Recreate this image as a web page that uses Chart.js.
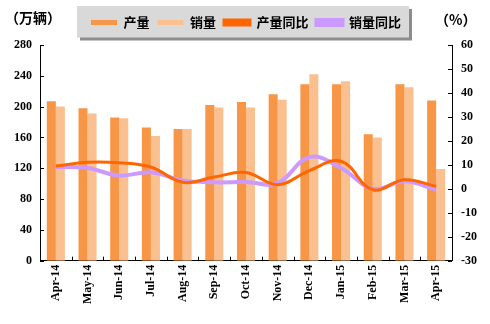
<!DOCTYPE html>
<html>
<head>
<meta charset="utf-8">
<script src="https://cdn.jsdelivr.net/npm/chart.js@4"></script>
<style>
html,body{margin:0;padding:0;background:#fff;}
#wrap{width:490px;height:324px;}
</style>
</head>
<body>
<div id="wrap"><canvas id="c" width="490" height="324"></canvas></div>
<script>
const categories = ['Apr-14','May-14','Jun-14','Jul-14','Aug-14','Sep-14','Oct-14','Nov-14','Dec-14','Jan-15','Feb-15','Mar-15','Apr-15'];
const production = [207,198,186,173,171,202,206,216,229,229,164,229,208];
const sales      = [200,191,185,162,171,199,199,209,242,233,160,225,119];
const productionYoY = [9.5,11.1,10.9,9.1,2.7,4.9,6.8,1.7,7.6,11.5,-0.4,3.8,1.0];
const salesYoY      = [9.1,8.7,5.5,6.9,3.5,2.7,2.8,2.4,13.2,8.7,0.0,3.1,-0.4];
const leftTicks  = [0,40,80,120,160,200,240,280];
const rightTicks = [-30,-20,-10,0,10,20,30,40,50,60];
const seriesNames = ['产量','销量','产量同比','销量同比'];
const leftTitle = '（万辆）';
const rightTitle = '（%）';

const tickFont = {family:'"Liberation Serif", "DejaVu Serif", serif', size:12, weight:'bold'};

const decor = {
  id:'decor',
  beforeInit(chart){
    const lg = chart.legend;
    if (lg && !lg._patched){
      const orig = lg.fit;
      lg.fit = function(){ orig.apply(this, arguments); this.height += 6; };
      lg._patched = true;
    }
  },
  beforeDraw(chart){
    const ctx = chart.ctx;
    const lg = chart.legend;
    if (lg && lg.legendHitBoxes && lg.legendHitBoxes.length){
      const hb = lg.legendHitBoxes;
      const first = hb[0], last = hb[hb.length-1];
      const cy = first.top + first.height/2;
      const x0 = first.left - 14, x1 = last.left + last.width + 8;
      const y0 = cy - 16.5, y1 = cy + 15;
      ctx.save();
      ctx.fillStyle = '#8c8c8c';
      ctx.fillRect(x0+3, y0+3, x1-x0, y1-y0);
      ctx.fillStyle = '#d9d9d9';
      ctx.fillRect(x0, y0, x1-x0, y1-y0);
      ctx.restore();
    }
  },
  afterDraw(chart){
    const ctx = chart.ctx;
    const a = chart.chartArea;
    const yl = chart.scales.y, yr = chart.scales.y1, x = chart.scales.x;
    ctx.save();
    ctx.strokeStyle = '#000';
    ctx.lineWidth = 1;
    ctx.beginPath();
    leftTicks.forEach(v=>{const p=Math.round(yl.getPixelForValue(v))+0.5; ctx.moveTo(a.left, p); ctx.lineTo(a.left+4, p);});
    rightTicks.forEach(v=>{const p=Math.round(yr.getPixelForValue(v))+0.5; ctx.moveTo(a.right, p); ctx.lineTo(a.right-4, p);});
    for(let i=1;i<categories.length;i++){
      const p = Math.round((x.getPixelForValue(i-1)+x.getPixelForValue(i))/2)+0.5;
      ctx.moveTo(p, a.bottom); ctx.lineTo(p, a.bottom-4);
    }
    ctx.stroke();
    ctx.fillStyle = '#000';
    ctx.font = 'bold 14px "Noto Sans CJK SC"';
    ctx.textBaseline = 'middle';
    ctx.textAlign = 'left';
    ctx.fillText(leftTitle, 5, 18);
    ctx.fillText(rightTitle, 435, 20);
    ctx.restore();
  }
};

new Chart(document.getElementById('c'), {
  type:'bar',
  data:{
    labels:categories,
    datasets:[
      {type:'bar', label:seriesNames[0], data:production, backgroundColor:'#F79646', borderWidth:0, yAxisID:'y', order:2, categoryPercentage:0.57, barPercentage:1},
      {type:'bar', label:seriesNames[1], data:sales, backgroundColor:'#FAC090', borderWidth:0, yAxisID:'y', order:2, categoryPercentage:0.57, barPercentage:1},
      {type:'line', label:seriesNames[2], data:productionYoY, borderColor:'#FF6600', backgroundColor:'#FF6600', borderWidth:3, pointRadius:0, tension:0.4, yAxisID:'y1', order:0},
      {type:'line', label:seriesNames[3], data:salesYoY, borderColor:'#CC99FF', backgroundColor:'#CC99FF', borderWidth:4, pointRadius:0, tension:0.4, yAxisID:'y1', order:1}
    ]
  },
  options:{
    responsive:false,
    animation:false,
    devicePixelRatio:1,
    layout:{padding:{top:8,left:6,right:4,bottom:16}},
    plugins:{
      tooltip:{enabled:false},
      legend:{
        display:true,
        position:'top',
        labels:{boxWidth:26, boxHeight:5, padding:8, color:'#000',
          sort:(a,b)=>a.datasetIndex-b.datasetIndex,
          font:{family:'"Noto Sans CJK SC"', size:13, weight:'bold'}}
      }
    },
    scales:{
      x:{
        offset:true,
        grid:{display:false, drawTicks:false},
        border:{display:true, color:'#000', width:1},
        ticks:{minRotation:90, maxRotation:90, autoSkip:false, color:'#000', font:{family:'"Liberation Serif", serif', size:12, weight:'bold'}, padding:4}
      },
      y:{
        position:'left', min:0, max:280,
        afterBuildTicks(s){ s.ticks = leftTicks.map(v=>({value:v})); },
        grid:{display:false, drawTicks:false},
        border:{display:true, color:'#000', width:1},
        ticks:{color:'#000', font:tickFont, padding:8}
      },
      y1:{
        position:'right', min:-30, max:60,
        afterBuildTicks(s){ s.ticks = rightTicks.map(v=>({value:v})); },
        grid:{display:false, drawTicks:false},
        border:{display:true, color:'#000', width:1},
        ticks:{color:'#000', font:tickFont, padding:9}
      }
    }
  },
  plugins:[decor]
});
</script>
</body>
</html>
